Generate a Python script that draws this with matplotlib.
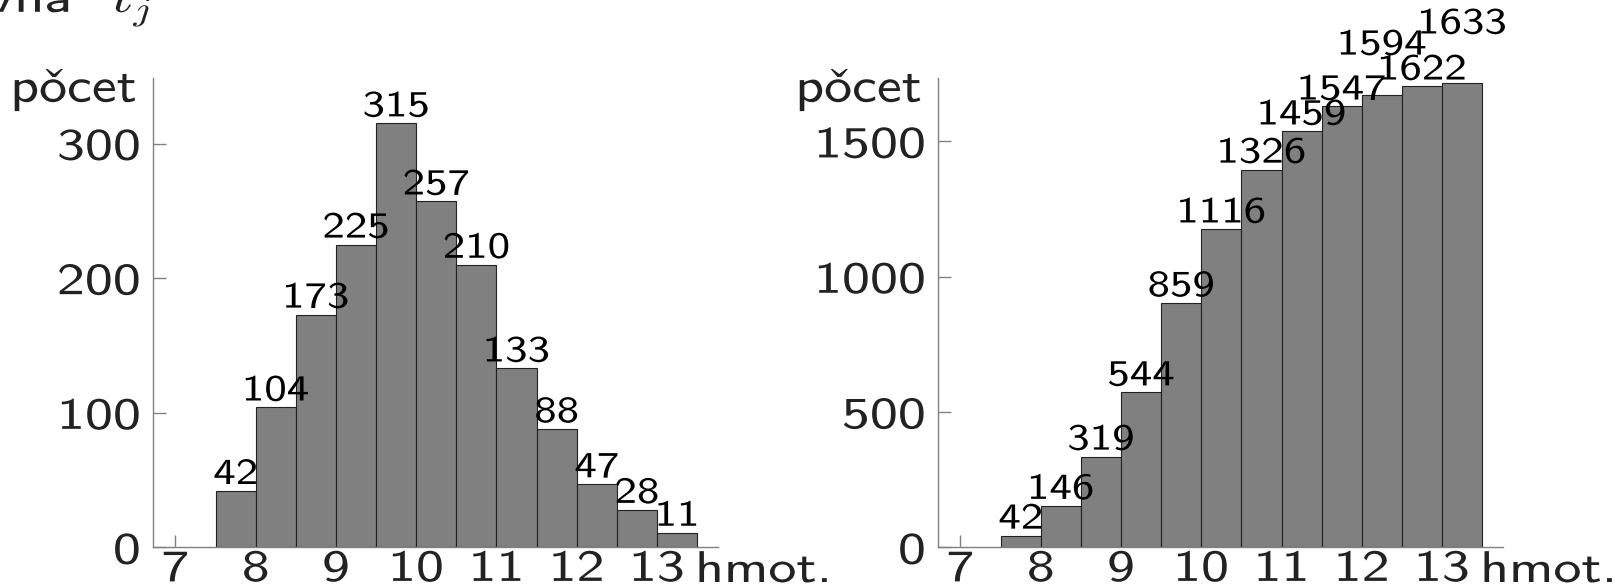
import numpy as np
import matplotlib
matplotlib.use("Agg")
import matplotlib.pyplot as plt
from matplotlib import patheffects
from matplotlib.transforms import Affine2D
from matplotlib.mathtext import MathTextParser
from matplotlib.font_manager import FontProperties

# class limits (left edges), width 0.5
bin_left = [7.5, 8.0, 8.5, 9.0, 9.5, 10.0, 10.5, 11.0, 11.5, 12.0, 12.5, 13.0]
bin_width = 0.5

# left panel: frequencies
counts = [42, 104, 173, 225, 315, 257, 210, 133, 88, 47, 28, 11]

# right panel: cumulative counts (labels) and bar heights as drawn in the picture
cum_labels = [42, 146, 319, 544, 859, 1116, 1326, 1459, 1547, 1594, 1622, 1633]
cum_bars = [44, 154, 336, 573, 903, 1175, 1396, 1537, 1629, 1672, 1703, 1714]

xticks = [7, 8, 9, 10, 11, 12, 13]
yticks_left = [0, 100, 200, 300]
yticks_right = [0, 500, 1000, 1500]

# extra lift (points) for crowded labels on the right
lift_right = [0, 0, 0, 0, 0, 0, 0, 0, 0, 24, 0, 31]

plt.rcParams['font.family'] = ['cmss10', 'DejaVu Sans']
plt.rcParams['mathtext.fontset'] = 'cm'
plt.rcParams['axes.unicode_minus'] = False


class StretchX(patheffects.AbstractPathEffect):
    """widen the glyphs horizontally (the original uses a wide sans face)"""
    def __init__(self, sx, anchor='center'):
        super().__init__()
        self.sx = sx
        self.anchor = anchor

    def draw_path(self, renderer, gc, tpath, affine, rgbFace=None):
        ext = tpath.get_extents()
        if self.anchor == 'left':
            cx = ext.x0
        elif self.anchor == 'right':
            cx = ext.x1
        else:
            cx = (ext.x0 + ext.x1) / 2
        tr = Affine2D().translate(-cx, 0).scale(self.sx, 1).translate(cx, 0) + affine
        renderer.draw_path(gc, tpath, tr, rgbFace)


def stretch(t, sx):
    t.set_path_effects([StretchX(sx, t.get_ha())])


# 'počet' via mathtext so the caron comes from the CM fonts if possible
pocet = '$\\mathsf{po\\check{c}et}$'
try:
    MathTextParser('path').parse(pocet, dpi=72, prop=FontProperties(size=12))
except Exception:
    pocet = 'počet'

fig = plt.figure(figsize=(16.2, 5.86), dpi=100)
ax1 = fig.add_axes([0.0944, 0.0657, 0.3488, 0.802])
ax2 = fig.add_axes([0.579, 0.0657, 0.3488, 0.802])

gray = '#808080'
tick_fs = 32
lab_fs = 26.5
sx_tick = 1.26
sx_lab = 1.22


def style_axis(ax, ylim, yticks):
    ax.set_xlim(6.72, 13.76)
    ax.set_ylim(*ylim)
    ax.set_axisbelow(True)
    for s in ['top', 'right']:
        ax.spines[s].set_visible(False)
    for s in ['left', 'bottom']:
        ax.spines[s].set_color(gray)
        ax.spines[s].set_linewidth(1.0)
    ax.set_xticks(xticks)
    ax.set_yticks(yticks)
    ax.tick_params(axis='both', direction='in', length=9, width=1.0,
                   color=gray, labelsize=tick_fs, labelcolor='#222222')
    ax.tick_params(axis='x', pad=1)
    ax.tick_params(axis='y', pad=9)
    for t in ax.get_xticklabels() + ax.get_yticklabels():
        stretch(t, sx_tick)
    t = ax.text(-0.028, 0.948, pocet, transform=ax.transAxes, ha='right',
                va='baseline', fontsize=35, color='#222222')
    stretch(t, 1.15)
    t = ax.text(0.961, -0.0734, 'hmot.', transform=ax.transAxes, ha='left',
                va='baseline', fontsize=tick_fs, color='#222222')
    stretch(t, sx_tick)


centers = np.array(bin_left) + bin_width / 2

# left: frequencies
ax1.bar(bin_left, counts, width=bin_width, align='edge', color=gray,
        edgecolor='#222222', linewidth=0.8)
for xc, h in zip(centers, counts):
    t = ax1.annotate(str(h), (xc, h), xytext=(0, 5), textcoords='offset points',
                     ha='center', va='baseline', fontsize=lab_fs)
    stretch(t, sx_lab)
style_axis(ax1, (0, 349), yticks_left)

# right: cumulative
ax2.bar(bin_left, cum_bars, width=bin_width, align='edge', color=gray,
        edgecolor='#222222', linewidth=0.8)
for xc, h, lab, lf in zip(centers, cum_bars, cum_labels, lift_right):
    t = ax2.annotate(str(lab), (xc, h), xytext=(0, 5 + lf), textcoords='offset points',
                     ha='center', va='baseline', fontsize=lab_fs, annotation_clip=False)
    stretch(t, sx_lab)
style_axis(ax2, (0, 1736), yticks_right)

# caption line cut off at the top of the picture
t = fig.text(152 / 1620, 1 - 12 / 586, 'rovna  $t_j$', ha='right', va='baseline',
             fontsize=34, color='#222222')
stretch(t, 1.25)

fig.savefig('out.png', dpi=100)
